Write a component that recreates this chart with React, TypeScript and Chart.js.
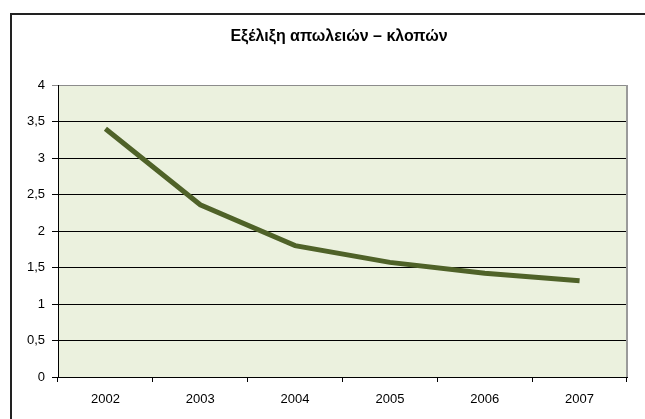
import React, { useEffect, useRef } from "react";
import { Chart, registerables } from "chart.js";

Chart.register(...registerables);

const TITLE = "Εξέλιξη απωλειών – κλοπών";
const YEARS = ["2002", "2003", "2004", "2005", "2006", "2007"];
const VALUES = [3.4, 2.36, 1.8, 1.57, 1.42, 1.32];
const Y_MIN = 0;
const Y_MAX = 4;
const Y_STEP = 0.5;

const FONT = "Arial, 'Liberation Sans', sans-serif";

const decorPlugin = {
  id: "decor",
  beforeDraw(chart: any) {
    const { ctx, chartArea } = chart;
    ctx.save();
    ctx.fillStyle = "#ffffff";
    ctx.fillRect(0, 0, chart.width, chart.height);
    // outer frame
    ctx.strokeStyle = "#222222";
    ctx.lineWidth = 2;
    ctx.strokeRect(11, 14, 700, 500);
    // plot background
    ctx.fillStyle = "#EBF1DE";
    ctx.fillRect(chartArea.left, chartArea.top, chartArea.right - chartArea.left, chartArea.bottom - chartArea.top);
    // title
    ctx.fillStyle = "#000000";
    ctx.font = `bold 16px ${FONT}`;
    ctx.textAlign = "center";
    ctx.textBaseline = "middle";
    ctx.fillText(TITLE, 339, 37);
    ctx.restore();
  },
  afterDraw(chart: any) {
    const { ctx, chartArea } = chart;
    ctx.save();
    ctx.strokeStyle = "#9a9a9a";
    ctx.lineWidth = 2;
    ctx.beginPath();
    ctx.moveTo(chartArea.right, chartArea.top);
    ctx.lineTo(chartArea.right, chartArea.bottom);
    ctx.stroke();
    ctx.restore();
  },
};

export default function App() {
  const ref = useRef<HTMLCanvasElement | null>(null);
  useEffect(() => {
    if (!ref.current) return;
    const chart = new Chart(ref.current, {
      type: "line",
      data: {
        labels: YEARS,
        datasets: [
          {
            data: VALUES,
            borderColor: "#4F6228",
            borderWidth: 5,
            pointRadius: 0,
            tension: 0,
            fill: false,
          },
        ],
      },
      options: {
        animation: false,
        responsive: false,
        devicePixelRatio: 1,
        layout: { padding: { top: 85, right: 18, left: 0, bottom: 0 } },
        plugins: {
          legend: { display: false },
          title: { display: false },
          tooltip: { enabled: false },
        },
        scales: {
          x: {
            offset: true,
            grid: {
              offset: true,
              drawOnChartArea: false,
              drawTicks: true,
              tickLength: 5,
              color: "#000000",
            },
            border: { display: true, color: "#000000", width: 1 },
            ticks: {
              color: "#000000",
              font: { family: FONT, size: 13 },
              padding: 10,
              maxRotation: 0,
            },
            afterFit(scale: any) {
              scale.height = 42;
            },
          },
          y: {
            min: Y_MIN,
            max: Y_MAX,
            grid: {
              color: (c: any) => (c.tick && c.tick.value === Y_MAX ? "#8c8c8c" : "#000000"),
              tickLength: 6,
              drawTicks: true,
            },
            border: { display: true, color: "#000000", width: 1 },
            ticks: {
              stepSize: Y_STEP,
              color: "#000000",
              font: { family: FONT, size: 13 },
              padding: 7,
              callback: (v: any) => String(v).replace(".", ","),
            },
            afterFit(scale: any) {
              scale.width = 58;
            },
          },
        },
      },
      plugins: [decorPlugin],
    });
    return () => chart.destroy();
  }, []);
  return (
    <div style={{ position: "absolute", left: 0, top: 0, width: 645, height: 419 }}>
      <canvas ref={ref} width={645} height={419} style={{ display: "block" }} />
    </div>
  );
}
